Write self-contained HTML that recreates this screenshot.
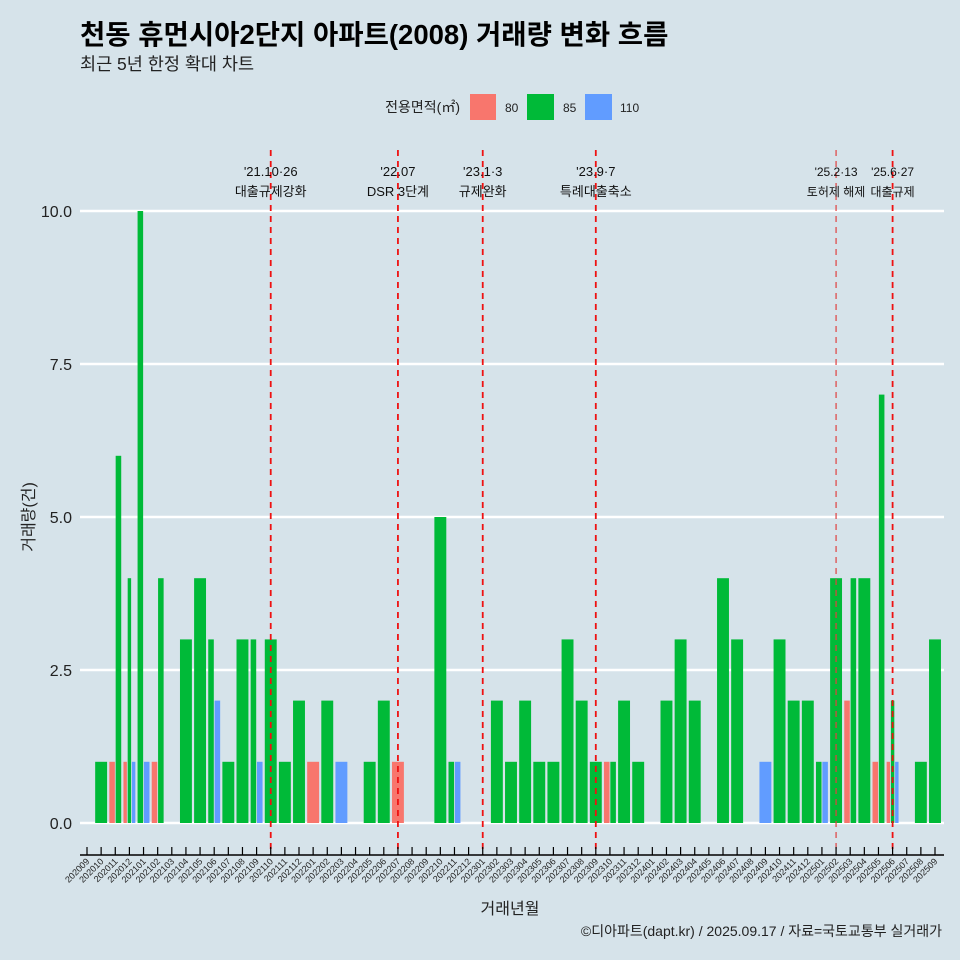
<!DOCTYPE html>
<html><head><meta charset="utf-8">
<style>
body{margin:0;background:#d6e3ea;}
svg{display:block;font-family:"Liberation Sans","Noto Sans CJK KR",sans-serif;}
</style></head>
<body>
<svg id="chart" width="960" height="960" viewBox="0 0 960 960">
<rect x="0" y="0" width="960" height="960" fill="#d6e3ea"/>
<text x="80" y="44" font-size="27.5" font-weight="bold" fill="#000">천동 휴먼시아2단지 아파트(2008) 거래량 변화 흐름</text>
<text x="80" y="70" font-size="17.5" fill="#222">최근 5년 한정 확대 차트</text>
<g>
<text x="460" y="112" font-size="14" text-anchor="end" fill="#222">전용면적(㎡)</text>
<rect x="470" y="94" width="26" height="26" fill="#f8766d"/>
<text x="505" y="112" font-size="12" fill="#222">80</text>
<rect x="527" y="94" width="27" height="26" fill="#00ba38"/>
<text x="563" y="112" font-size="12" fill="#222">85</text>
<rect x="585" y="94" width="27" height="26" fill="#619cff"/>
<text x="620" y="112" font-size="12" fill="#222">110</text>
</g>
<g id="grid"></g>
<g id="bars"></g>
<g id="events"></g>
<g id="axes"></g>
<text x="510" y="914" font-size="16" text-anchor="middle" fill="#222">거래년월</text>
<text x="34" y="517" font-size="16" text-anchor="middle" fill="#222" transform="rotate(-90 34 517)">거래량(건)</text>
<text x="942" y="936" font-size="14" text-anchor="end" fill="#222">©디아파트(dapt.kr) / 2025.09.17 / 자료=국토교통부 실거래가</text>
</svg>
<script>
const months=[];
for(let y=2020,m=9;y<2025||(y===2025&&m<=9);){months.push(y+String(m).padStart(2,'0'));m++;if(m>12){m=1;y++;}}
const sizes=['80','85','110'];
const colors={'80':'#f8766d','85':'#00ba38','110':'#619cff'};
const v80={'202011':1,'202012':1,'202102':1,'202201':1,'202207':1,'202310':1,'202503':2,'202505':1,'202506':1};
const v85={'202010':1,'202011':6,'202012':4,'202101':10,'202102':4,'202104':3,'202105':4,'202106':3,'202107':1,'202108':3,'202109':3,'202110':3,'202111':1,'202112':2,'202202':2,'202205':1,'202206':2,'202210':5,'202211':1,'202302':2,'202303':1,'202304':2,'202305':1,'202306':1,'202307':3,'202308':2,'202309':1,'202310':1,'202311':2,'202312':1,'202402':2,'202403':3,'202404':2,'202406':4,'202407':3,'202410':3,'202411':2,'202412':2,'202501':1,'202502':4,'202503':4,'202504':4,'202505':7,'202506':2,'202508':1,'202509':3};
const v110={'202012':1,'202101':1,'202106':2,'202109':1,'202203':1,'202211':1,'202409':1,'202501':1,'202506':1};
const yTicks=[0,2.5,5,7.5,10];
const yTickLabels=['0.0','2.5','5.0','7.5','10.0'];
const eventMonths=['202110','202207','202301','202309','202502','202506'];
const eventLine1=["'21.10·26","'22.07","'23.1·3","'23.9·7","'25.2·13","'25.6·27"];
const eventLine2=['대출규제강화','DSR 3단계','규제완화','특례대출축소','토허제 해제','대출규제'];

const NS='http://www.w3.org/2000/svg';
const x0=87,dx=(935-87)/60;
const xs=i=>x0+i*dx;
const ys=v=>823-v*61.2;
function mk(tag,attrs,parent){const e=document.createElementNS(NS,tag);for(const k in attrs)e.setAttribute(k,attrs[k]);parent.appendChild(e);return e;}
const grid=document.getElementById('grid'),bars=document.getElementById('bars'),ev=document.getElementById('events'),ax=document.getElementById('axes');
yTicks.forEach((t,i)=>{
  const l=mk('line',{x1:80,x2:944,y1:ys(t),y2:ys(t),stroke:'#fff','stroke-width':2.5},grid);
  
  
  const tx=mk('text',{x:72,y:ys(t)+6,'font-size':16,'text-anchor':'end',fill:'#222'},ax);
  tx.textContent=yTickLabels[i];
  
  
});
const series={'80':v80,'85':v85,'110':v110};
months.forEach((m,i)=>{
  const present=sizes.filter(s=>series[s][m]);
  if(!present.length)return;
  const w=dx*0.9/present.length;
  present.forEach((s,j)=>{
    const v=series[s][m];
    const x=xs(i)-dx*0.45+j*w;
    const r=mk('rect',{x:x+0.4,y:ys(v),width:w-0.8,height:ys(0)-ys(v),fill:colors[s]},bars);
    
    
  });
});
eventMonths.forEach((m,k)=>{
  const i=months.indexOf(m);
  const thin=m==='202502';
  const l=mk('line',{x1:xs(i),x2:xs(i),y1:150,y2:855,stroke:thin?'#e04040':'#ee1111','stroke-width':thin?1.2:1.8,'stroke-dasharray':'6,5'},ev);
  
  
  const fs=(m==='202502'||m==='202506')?12:13;
  const t1=mk('text',{x:xs(i),y:176,'font-size':fs,'text-anchor':'middle',fill:'#111'},ev);
  t1.textContent=eventLine1[k];
  
  
  const t2=mk('text',{x:xs(i),y:196,'font-size':fs,'text-anchor':'middle',fill:'#111'},ev);
  t2.textContent=eventLine2[k];
  
  
});
const axl=mk('line',{x1:80,x2:944,y1:855,y2:855,stroke:'#000','stroke-width':1.5},ax);


months.forEach((m,i)=>{
  const tk=mk('line',{x1:xs(i),x2:xs(i),y1:847,y2:855,stroke:'#000','stroke-width':1.2},ax);
  
  
  const t=mk('text',{x:xs(i)+3,y:862,'font-size':9,'text-anchor':'end',fill:'#222',transform:`rotate(-45 ${xs(i)+3} 862)`},ax);
  t.textContent=m;
  
  
});
</script>
</body></html>
